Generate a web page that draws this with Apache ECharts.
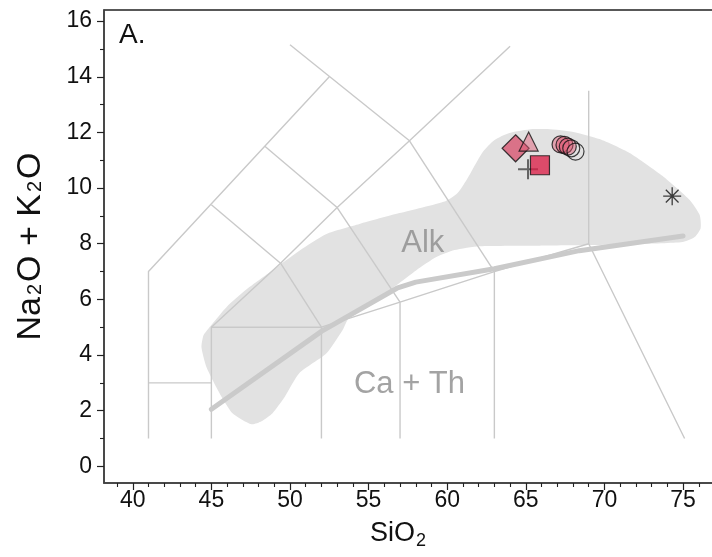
<!DOCTYPE html>
<html>
<head>
<meta charset="utf-8">
<script src="https://cdn.jsdelivr.net/npm/echarts@6/dist/echarts.min.js"></script>
<style>
  html, body { margin: 0; padding: 0; background: #fff; }
  #chart { width: 712px; height: 557px; }
</style>
</head>
<body>
<div id="chart"></div>
<script>
// ---- axis ticks ----
const xMajorTicks = [40, 45, 50, 55, 60, 65, 70, 75];
const xMinorTicks = [39, 41, 42, 43, 44, 46, 47, 48, 49, 51, 52, 53, 54, 56, 57, 58, 59,
                     61, 62, 63, 64, 66, 67, 68, 69, 71, 72, 73, 74, 76];
const yMajorTicks = [0, 2, 4, 6, 8, 10, 12, 14, 16];
const yMinorTicks = [1, 3, 5, 7, 9, 11, 13, 15];

// ---- TAS classification boundaries (SiO2, Na2O+K2O) ----
const tasLines = [
  [[41, 1], [41, 7], [52.5, 14]],
  [[41, 3], [45, 3]],
  [[45, 1], [45, 5], [52, 5], [52, 1]],
  [[52, 5], [57, 5.9], [63, 7], [69, 8]],
  [[57, 1], [57, 5.9]],
  [[63, 1], [63, 7]],
  [[45, 5], [49.4, 7.3], [53, 9.3], [57.6, 11.7], [64, 15.1]],
  [[49.4, 7.3], [52, 5]],
  [[53, 9.3], [57, 5.9]],
  [[57.6, 11.7], [63, 7]],
  [[45, 9.4], [49.4, 7.3]],
  [[48.4, 11.5], [53, 9.3]],
  [[50, 15.15], [57.6, 11.7]],
  [[69, 13.5], [69, 8], [75.1, 1]]
];

// alkaline / subalkaline divide
const divideLine = [[45, 2.05], [52, 4.85], [56.8, 6.4], [58, 6.62], [63, 7.1], [68.4, 7.75], [75, 8.28]];

// outline of the shaded reference field
const refField = [
  [47.55, 1.51], [46.34, 1.91], [45.52, 2.63], [44.69, 3.56], [44.37, 4.28], [44.5, 4.71],
  [44.88, 5.0], [45.96, 5.72], [47.42, 6.44], [49.33, 7.23], [50.6, 7.75], [52.32, 8.35],
  [54.42, 8.71], [56.96, 9.1], [59.89, 9.53], [60.66, 9.82], [61.23, 10.29], [62.25, 11.29],
  [63.01, 11.73], [63.96, 11.98], [65.43, 12.12], [66.38, 12.12], [68.1, 12.01], [69.69, 11.76],
  [71.6, 11.26], [73.7, 10.43], [75.42, 9.57], [76.06, 9.03], [76.12, 8.56], [75.74, 8.24],
  [74.97, 8.06], [72.23, 7.99], [69.05, 7.95], [65.87, 7.93], [62.05, 7.91], [60.46, 7.77],
  [59.31, 7.52], [58.04, 7.05], [56.77, 6.51], [55.69, 6.08], [53.78, 5.36], [53.34, 4.89],
  [52.32, 4.06], [50.6, 3.35], [49.65, 2.48], [48.89, 1.91], [48.19, 1.62]
];

// field names
const fieldNames = [
  { name: 'Alk', value: [58.45, 8.0] },
  { name: 'Ca + Th', value: [57.6, 2.95] }
];

// ---- samples ----
const diamondPts = [[64.35, 11.43]];
const trianglePts = [[65.18, 11.67]];
const plusPts = [[65.14, 10.68]];
const squarePts = [[65.9, 10.82]];
const filledCirclePts = [[67.21, 11.57], [67.46, 11.55], [67.67, 11.49]];
const openCirclePts = [[67.89, 11.43], [68.16, 11.31]];
const asteriskPts = [[74.31, 9.71]];

const FONT = '"Liberation Sans", Arial, Helvetica, sans-serif';
const X_MIN = 38.17, X_MAX = 76.97;
const Y_MIN = -0.6, Y_MAX = 16.4;
const LINE_GREY = '#c9c9c9';

const chart = echarts.init(document.getElementById('chart'), null, { renderer: 'canvas' });

const boundarySeries = tasLines.map(pts => ({
  type: 'line',
  data: pts,
  showSymbol: false,
  symbol: 'none',
  silent: true,
  z: 3,
  lineStyle: { color: LINE_GREY, width: 1.4 },
  animation: false
}));

const outline = { borderColor: '#111', borderWidth: 1.2 };

const option = {
  animation: false,
  backgroundColor: '#fff',
  textStyle: { fontFamily: FONT },
  grid: {
    left: 104, right: -2, top: 10, bottom: 74,
    show: true, borderColor: '#222', borderWidth: 1.5, backgroundColor: 'transparent',
    outerBoundsMode: 'none'
  },
  xAxis: [
    {
      type: 'value', min: X_MIN, max: X_MAX, position: 'bottom',
      axisLine: { show: true, onZero: false, lineStyle: { color: '#444', width: 1.5 } },
      axisTick: { show: true, customValues: xMajorTicks, length: 7, lineStyle: { color: '#222', width: 1.2 } },
      axisLabel: { customValues: xMajorTicks, fontSize: 23, color: '#111', margin: 6, fontFamily: FONT },
      splitLine: { show: false },
      name: 'SiO{s|2}', nameLocation: 'middle', nameGap: 35,
      nameTextStyle: {
        fontSize: 27, color: '#111', fontFamily: FONT, padding: [0, 22, 0, 0],
        rich: { s: { fontSize: 18, color: '#111', fontFamily: FONT, padding: [14, 0, 0, 1] } }
      }
    },
    {
      type: 'value', min: X_MIN, max: X_MAX, position: 'bottom',
      axisLine: { show: false, onZero: false },
      axisTick: { show: true, customValues: xMinorTicks, length: 4, lineStyle: { color: '#222', width: 1.1 } },
      axisLabel: { show: false },
      splitLine: { show: false }
    }
  ],
  yAxis: [
    {
      type: 'value', min: Y_MIN, max: Y_MAX, position: 'left',
      axisLine: { show: true, onZero: false, lineStyle: { color: '#444', width: 1.5 } },
      axisTick: { show: true, customValues: yMajorTicks, length: 7, lineStyle: { color: '#222', width: 1.2 } },
      axisLabel: { customValues: yMajorTicks, fontSize: 23, color: '#111', margin: 12, fontFamily: FONT },
      splitLine: { show: false },
      name: 'Na{s|2}O + K{s|2}O', nameLocation: 'middle', nameGap: 56, nameRotate: 90,
      nameTextStyle: {
        fontSize: 34, color: '#111', fontFamily: FONT,
        rich: { s: { fontSize: 20, color: '#111', fontFamily: FONT, padding: [9, 2, 0, 2] } }
      }
    },
    {
      type: 'value', min: Y_MIN, max: Y_MAX, position: 'left',
      axisLine: { show: false, onZero: false },
      axisTick: { show: true, customValues: yMinorTicks, length: 4, lineStyle: { color: '#222', width: 1.1 } },
      axisLabel: { show: false },
      splitLine: { show: false }
    }
  ],
  graphic: [
    { type: 'text', left: 119, top: 21, style: { text: 'A.', fontSize: 28, fill: '#111', fontFamily: FONT } }
  ],
  series: [
    {
      type: 'custom',
      name: 'field',
      silent: true,
      z: 1,
      data: refField,
      encode: { x: 0, y: 1 },
      renderItem: function (params, api) {
        if (params.dataIndex !== 0) return null;
        const pts = refField.map(p => api.coord(p));
        return {
          type: 'polygon',
          shape: { points: pts, smooth: 0.2 },
          style: { fill: '#e2e2e2', stroke: 'none' }
        };
      }
    },
    ...boundarySeries,
    {
      type: 'line', data: divideLine, showSymbol: false, symbol: 'none', silent: true, z: 4,
      lineStyle: { color: '#cacaca', width: 5, cap: 'round', join: 'round' }
    },
    {
      type: 'scatter', data: fieldNames, symbolSize: 0, silent: true, z: 5,
      label: { show: true, position: 'inside', formatter: p => p.name, fontSize: 31, color: '#8c8c8c', fontFamily: FONT }
    },
    {
      type: 'scatter', name: 'diamond', data: diamondPts, symbol: 'diamond', symbolSize: 27, z: 6,
      itemStyle: Object.assign({ color: 'rgba(214,62,94,0.85)' }, outline)
    },
    {
      type: 'scatter', name: 'triangle', data: trianglePts, symbol: 'triangle', symbolSize: [19, 19], z: 7,
      itemStyle: Object.assign({ color: 'rgba(224,90,118,0.6)' }, outline)
    },
    {
      type: 'scatter', name: 'plus', data: plusPts, symbol: 'path://M0,-10L0,10M-10,0L10,0', symbolSize: 20, z: 6,
      itemStyle: { color: 'transparent', borderColor: '#454545', borderWidth: 2 }
    },
    {
      type: 'scatter', name: 'square', data: squarePts, symbol: 'rect', symbolSize: 19, z: 7,
      itemStyle: Object.assign({ color: 'rgba(220,28,68,0.95)' }, outline)
    },
    {
      type: 'scatter', name: 'circle', data: filledCirclePts, symbol: 'circle', symbolSize: 17, z: 6,
      itemStyle: Object.assign({ color: 'rgba(222,80,110,0.55)' }, outline)
    },
    {
      type: 'scatter', name: 'circle open', data: openCirclePts, symbol: 'circle', symbolSize: 17, z: 6,
      itemStyle: Object.assign({ color: 'rgba(0,0,0,0)' }, outline)
    },
    {
      type: 'scatter', name: 'asterisk', data: asteriskPts,
      symbol: 'path://M0,-10L0,10M-10,0L10,0M-7.07,-7.07L7.07,7.07M-7.07,7.07L7.07,-7.07', symbolSize: 18, z: 6,
      itemStyle: { color: 'transparent', borderColor: '#111', borderWidth: 1.3 }
    }
  ]
};

chart.setOption(option);
</script>
</body>
</html>
